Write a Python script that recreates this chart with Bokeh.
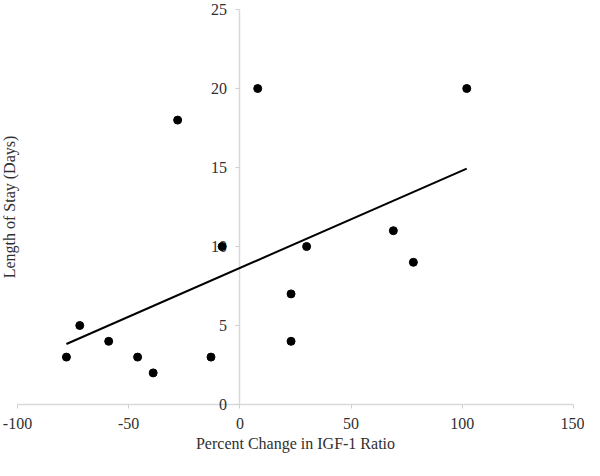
import numpy as np
from bokeh.plotting import figure
from bokeh.models import LinearAxis, FixedTicker, Range1d, Label
from bokeh.embed import file_html
from bokeh.resources import INLINE

# Data
pct_change = [-78, -72, -59, -46, -39, -13, -28, -8, 8, 23, 23, 30, 69, 78, 102]
length_of_stay = [3, 5, 4, 3, 2, 3, 18, 10, 20, 7, 4, 10, 11, 9, 20]
x_ticks = [-100, -50, 0, 50, 100, 150]
y_ticks = [0, 5, 10, 15, 20, 25]

FONT = "Liberation Serif"
W, H = 584, 460
# pixel layout of the axis box inside the canvas
X0_PX, X1_PX = 17, 573   # where -100 and 150 sit
Y_TOP_PX, Y0_PX = 9, 404  # where 25 and 0 sit (from top)
xmin, xmax = x_ticks[0], x_ticks[-1]
ymin, ymax = y_ticks[0], y_ticks[-1]
xs_per_px = (xmax - xmin) / (X1_PX - X0_PX)
ys_per_px = (ymax - ymin) / (Y0_PX - Y_TOP_PX)
x_range = Range1d(xmin - X0_PX * xs_per_px, xmax + (W - X1_PX) * xs_per_px)
y_range = Range1d(ymin - (H - Y0_PX) * ys_per_px, ymax + Y_TOP_PX * ys_per_px)

p = figure(width=W, height=H, output_backend="svg", toolbar_location=None,
           x_axis_location=None, y_axis_location=None,
           x_range=x_range, y_range=y_range, min_border=0)
p.grid.visible = False
p.outline_line_color = None
p.background_fill_color = "white"
p.border_fill_color = "white"

xaxis = LinearAxis(fixed_location=0, ticker=FixedTicker(ticks=x_ticks), bounds=(xmin, xmax),
                   major_label_overrides={t: str(t) for t in x_ticks})
yaxis = LinearAxis(fixed_location=0, ticker=FixedTicker(ticks=y_ticks), bounds=(ymin, ymax),
                   major_label_overrides={t: str(t) for t in y_ticks})
for ax in (xaxis, yaxis):
    ax.axis_line_color = "#d9d9d9"
    ax.axis_line_width = 1.5
    ax.major_tick_line_color = "#cfcfcf"
    ax.major_tick_out = 4
    ax.major_tick_in = 0
    ax.minor_tick_line_color = None
    ax.major_label_text_font = FONT
    ax.major_label_text_font_size = "16px"
    ax.major_label_text_color = "#303030"
    ax.level = "underlay"
yaxis.major_label_standoff = 9
xaxis.major_label_standoff = 9
xaxis.axis_label = "Percent Change in IGF-1 Ratio"
xaxis.axis_label_text_font = FONT
xaxis.axis_label_text_font_size = "16px"
xaxis.axis_label_text_font_style = "normal"
xaxis.axis_label_text_color = "#303030"
xaxis.axis_label_standoff = 3
p.add_layout(xaxis, "below")
p.add_layout(yaxis, "left")

ylab = Label(x=xmin, y=(ymin + ymax) / 2, x_units="data", y_units="data", x_offset=-8,
             text="Length of Stay (Days)", angle=np.pi / 2,
             text_align="center", text_baseline="middle",
             text_font=FONT, text_font_size="16px", text_color="#303030")
p.add_layout(ylab)

# linear trend line
slope, intercept = np.polyfit(pct_change, length_of_stay, 1)
xs = [min(pct_change), max(pct_change)]
ys = [slope * v + intercept for v in xs]
p.line(xs, ys, line_color="black", line_width=2)

p.scatter(pct_change, length_of_stay, size=8, fill_color="black", line_color="black")

open("out.html", "w").write(file_html(p, INLINE))
